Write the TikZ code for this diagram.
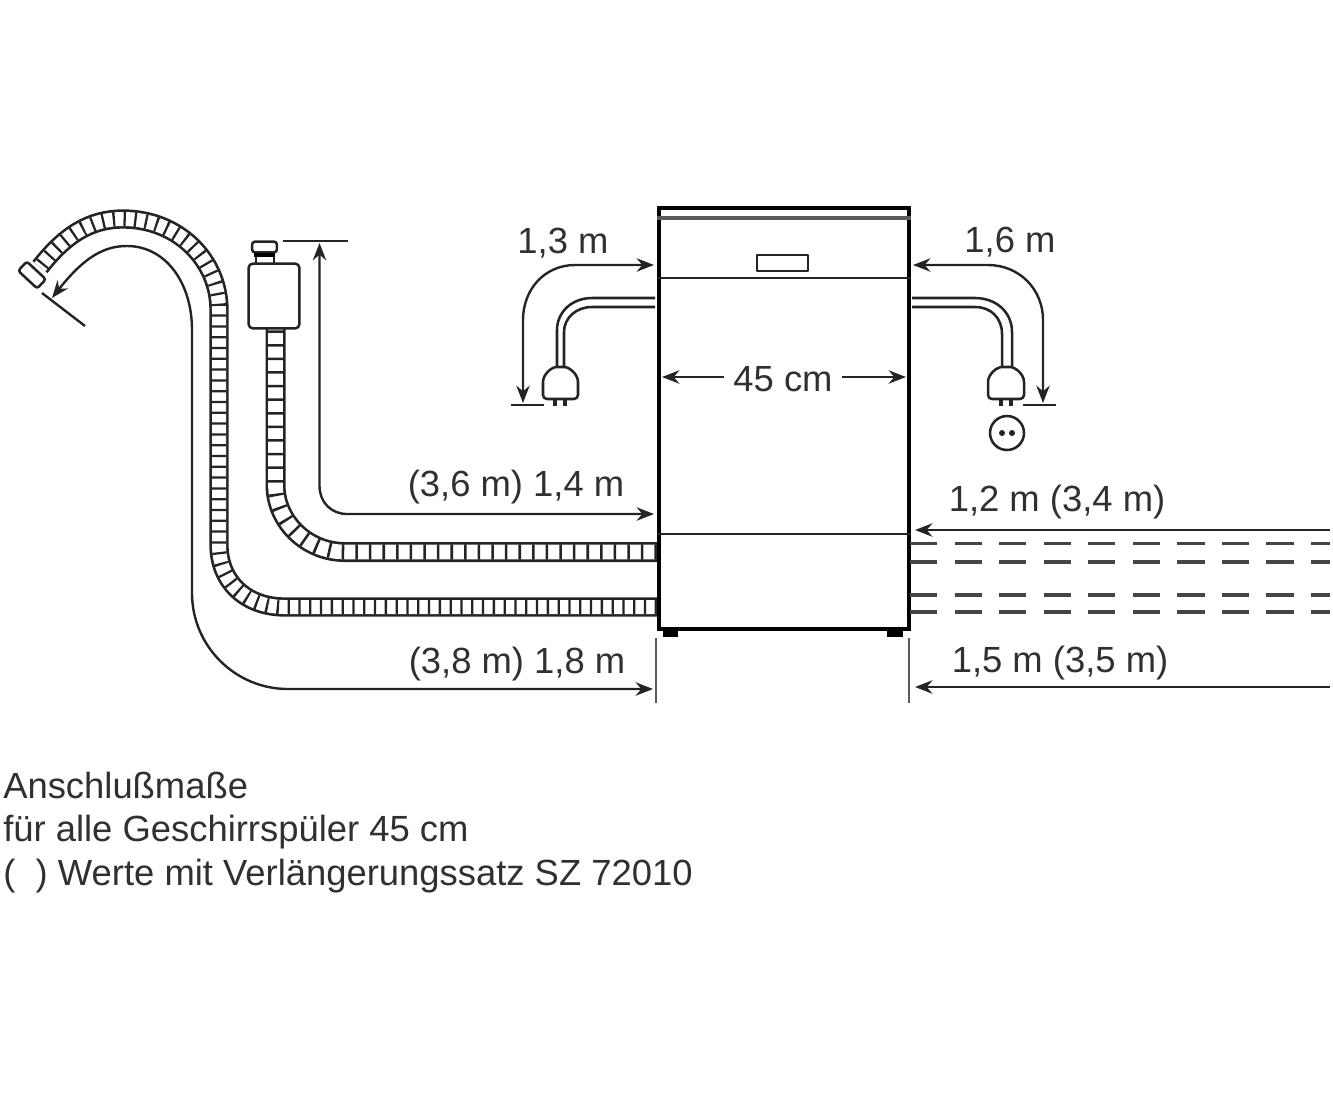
\documentclass[tikz,border=0pt]{standalone}
\usepackage{fontspec}
\setmainfont{Liberation Sans}
\usetikzlibrary{arrows.meta}
\definecolor{ink}{HTML}{242424}
\definecolor{txt}{HTML}{303030}
\tikzset{
  lbl/.style={inner sep=0pt,text=txt,font=\fontsize{27.3}{30}\selectfont},
  dim/.style={draw=ink,line width=1.8pt,-{Stealth[length=13pt,width=10pt]}},
  dimb/.style={draw=ink,line width=1.8pt,{Stealth[length=13pt,width=10pt]}-{Stealth[length=13pt,width=10pt]}},
  ref/.style={draw=ink,line width=1.8pt},
  part/.style={draw=ink,line width=1.9pt,fill=white,line join=round},
  cord/.style={draw=ink,line width=1.9pt},
  hoseA/.style={draw=ink,line width=2pt,double=white,double distance=10.5pt},
  hoseB/.style={draw=ink,line width=2pt,double=white,double distance=11pt},
  ribA/.style={draw=ink,line width=10.8pt,dash pattern=on 1.7pt off 6.4pt},
  ribB/.style={draw=ink,line width=11.3pt,dash pattern=on 1.9pt off 8.3pt},
  pipe/.style={draw=ink!85,line width=2.4pt,dash pattern=on 20.5pt off 12.9pt},
}
\begin{document}
\begin{tikzpicture}[x=0.75pt,y=-0.75pt]
\useasboundingbox (0,0) rectangle (1333,1100);
% named points
\coordinate (hoA1) at (657,607);
\coordinate (hoA2) at (40,267);
\coordinate (hoB1) at (657,552);
\coordinate (hoB2) at (275.5,329);
% outer drain hose
\def\hosepathA{(hoA1) -- (285,607) .. controls (245,607) and (219,581) .. (219,545) -- (219,310) .. controls (219,260) and (178,219) .. (123,219) .. controls (90,219) and (65,235) .. (hoA2)}
\draw[hoseA] \hosepathA;
\draw[ribA] \hosepathA;
% inner inlet hose
\def\hosepathB{(hoB1) -- (345,552) .. controls (306,552) and (275.5,521) .. (275.5,485) -- (hoB2)}
\draw[hoseB] \hosepathB;
\draw[ribB] \hosepathB;
% hose end
\node[part,rounded corners=2pt,minimum width=19.5pt,minimum height=9.5pt,inner sep=0pt,rotate=-43] (hoseend) at (32,275) {};
% valve
\node[part,rounded corners=3pt,minimum width=38pt,minimum height=48.5pt,inner sep=0pt] (valve) at (274,296) {};
\node[part,rounded corners=2pt,minimum width=18.5pt,minimum height=8pt,inner sep=0pt] (nut) at (264.5,247) {};
\draw[line width=3pt,draw=black] (254,255) -- (275,255);
\draw[cord] (256,257) -- (256,263) (274,257) -- (274,263);
% machine body
\node[draw=black,line width=3pt,minimum width=187.5pt,minimum height=315.5pt,inner sep=0pt] (box) at (783.5,418.5) {};
\fill[black] (663,631) rectangle (678,637);
\fill[black] (887,631) rectangle (903,637);
\draw[draw=ink!75,line width=2.6pt] (box.west |- 0,218) -- (box.east |- 0,218);
\draw[draw=ink,line width=1.8pt] (box.west |- 0,278) -- (box.east |- 0,278);
\draw[draw=ink,line width=1.4pt] (box.west |- 0,534) -- (box.east |- 0,534);
\node[part,minimum width=38pt,minimum height=12pt,inner sep=0pt] (panel) at (782.5,263) {};
% mains cords and plugs
\coordinate (cLa) at (655,298); \coordinate (cLb) at (655,307);
\coordinate (cRa) at (912,298); \coordinate (cRb) at (912,307);
\draw[part,fill=white,rounded corners=3pt] (543,399) -- (543,386) .. controls (543,374) and (552,367) .. (560.5,367) .. controls (569,367) and (578,374) .. (578,386) -- (578,399) -- cycle;
\coordinate (plugL1) at (557,367); \coordinate (plugL2) at (564,367);
\draw[cord] (cLa) -- (592,298) .. controls (572,298) and (557,312) .. (557,330) -- (plugL1);
\draw[cord] (cLb) -- (592,307) .. controls (576,307) and (564,318) .. (564,332) -- (plugL2);
\draw[line width=3pt,draw=ink] (555,399) -- (555,406) (565,399) -- (565,406);
\draw[part,fill=white,rounded corners=3pt] (988,399) -- (988,386) .. controls (988,374) and (997,367) .. (1006,367) .. controls (1015,367) and (1024,374) .. (1024,386) -- (1024,399) -- cycle;
\coordinate (plugR1) at (1012,367); \coordinate (plugR2) at (1002,367);
\draw[cord] (cRa) -- (975,298) .. controls (996,298) and (1012,312) .. (1012,332) -- (plugR1);
\draw[cord] (cRb) -- (975,307) .. controls (991,307) and (1002,318) .. (1002,334) -- (plugR2);
\draw[line width=3pt,draw=ink] (1001,399) -- (1001,406) (1011,399) -- (1011,406);
% socket
\node[draw=ink,line width=1.9pt,circle,minimum size=25.5pt,inner sep=0pt] (socket) at (1007,433) {};
\fill[ink] (1002,433) circle[radius=3] (1012,433) circle[radius=3];
% texts
\node[lbl] (t13) at (563,243) {1,3 m};
\node[lbl] (t16) at (1010,242) {1,6 m};
\node[lbl] (t45) at (783,379) {45 cm};
\node[lbl] (t14) at (516,487) {(3,6 m) 1,4 m};
\node[lbl] (t12) at (1057,502) {1,2 m (3,4 m)};
\node[lbl] (t18) at (517,664) {(3,8 m) 1,8 m};
\node[lbl] (t15) at (1060,663) {1,5 m (3,5 m)};
\node[lbl,anchor=base west] (n1) at (3,798) {Anschlußmaße};
\node[lbl,anchor=base west] (n2) at (3,841) {für alle Geschirrspüler 45 cm};
\node[lbl,anchor=base west] (n3) at (3,885) {(\hspace{0.56em}) Werte mit Verlängerungssatz SZ 72010};
% dimension references
\coordinate (r1a) at (511,405); \coordinate (r1b) at (544,405);
\coordinate (r2a) at (1023,405); \coordinate (r2b) at (1056,405);
\coordinate (r3a) at (283,241); \coordinate (r3b) at (348,241);
\coordinate (r4a) at (42,293); \coordinate (r4b) at (85,326);
\coordinate (r5a) at (656,638); \coordinate (r5b) at (656,703);
\coordinate (r6a) at (909,638); \coordinate (r6b) at (909,703);
\draw[ref] (r1a) -- (r1b);
\draw[ref] (r2a) -- (r2b);
\draw[ref] (r3a) -- (r3b);
\draw[ref] (r4a) -- (r4b);
\draw[draw=ink!75,line width=2.2pt] (r5a) -- (r5b);
\draw[draw=ink!75,line width=2.2pt] (r6a) -- (r6b);
% dimension arrows
\coordinate (a13a) at (654,265); \coordinate (a13b) at (523,403);
\draw[dimb] (a13a) -- (575,265) .. controls (545,265) and (523,289) .. (523,320) -- (a13b);
\coordinate (a16a) at (913,265); \coordinate (a16b) at (1043,403);
\draw[dimb] (a16a) -- (988,265) .. controls (1019,265) and (1043,289) .. (1043,320) -- (a16b);
\coordinate (a45a) at (662,377); \coordinate (a45b) at (906,377);
\draw[dim] (t45.west) ++(-9,-2) -- (a45a);
\draw[dim] (t45.east) ++(9,-2) -- (a45b);
\coordinate (a14a) at (654,514); \coordinate (a14b) at (319.5,243);
\draw[dimb] (a14a) -- (347,514) .. controls (331,514) and (319.5,502) .. (319.5,486) -- (a14b);
\coordinate (a18a) at (653,689); \coordinate (a18b) at (52,298);
\draw[dimb] (a18a) -- (288,689) .. controls (235,689) and (192,646) .. (192,593) -- (192,330) .. controls (192,282) and (165,246) .. (127,246) .. controls (105,246) and (85,256) .. (a18b);
\coordinate (a12a) at (1330,530); \coordinate (a12b) at (915,530);
\draw[dim,line width=2.1pt] (a12a) -- (a12b);
\coordinate (a15a) at (1330,687); \coordinate (a15b) at (915,687);
\draw[dim,line width=2.1pt] (a15a) -- (a15b);
% pipes
\foreach \yy/\nm in {543.5/p1,562/p2,595/p3,612/p4}{
  \coordinate (\nm a) at (910,\yy); \coordinate (\nm b) at (1330,\yy);
  \draw[pipe] (\nm a) -- (\nm b);
}
\end{tikzpicture}
\end{document}
